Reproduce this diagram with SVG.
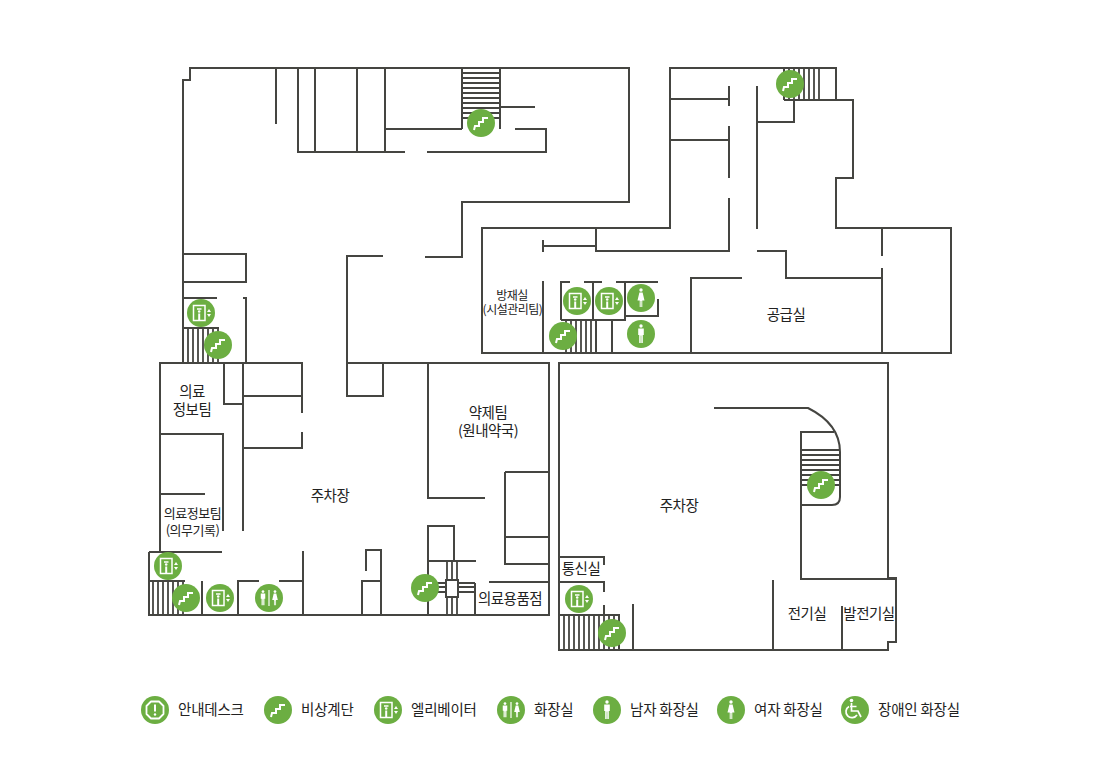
<svg xmlns="http://www.w3.org/2000/svg" xmlns:xlink="http://www.w3.org/1999/xlink" width="1100" height="769" viewBox="0 0 1100 769">
<style>
.w{fill:none;stroke:#454541;stroke-width:2}
.s{fill:none;stroke:#454541;stroke-width:1.8}
.t{font-family:"Noto Sans CJK KR","Liberation Sans",sans-serif;font-size:14.5px;fill:#222;letter-spacing:-.5px;text-anchor:middle}
.m{font-size:12px}
.n{font-size:13px}
.l{text-anchor:start;font-size:14.5px;letter-spacing:-.2px}
.g{fill:#6cae42}
.i{fill:none;stroke:#fff;stroke-width:1.5}
.f{fill:#fff}
</style>
<defs>
<g id="stair"><circle class="g" r="14"/><path d="M-7,7 L-6,3 H-2 V-1 H2 V-5 H7" fill="none" stroke="#fff" stroke-width="2"/></g>
<g id="elev"><circle class="g" r="14"/><rect class="i" x="-7.500" y="-7.500" width="11.500" height="15"/><path fill="none" stroke="#fff" stroke-width="1.500" d="M-4,-4 H.5"/><circle class="f" cx="-1.800" cy="-1.500" r="1.300"/><rect class="f" x="-2.800" y=".5" width="2" height="7"/><path class="f" d="M8,-4 L10,-1 H6 Z M8,4 L10,1 H6 Z"/></g>
<g id="man"><circle class="f" cy="-8" r="1.700"/><path class="f" d="M-2.800,-5.500 H2.800 V1 H1.800 V9 H.3 V1.500 H-.3 V9 H-1.800 V1 H-2.800 Z"/></g>
<g id="woman"><circle class="f" cy="-8" r="1.700"/><path class="f" d="M-1.600,-5.500 H1.600 L3.500,2.500 H1.300 V9 H.3 V3 H-.3 V9 H-1.300 V2.500 H-3.500 Z"/></g>
<g id="wc"><circle class="g" r="14"/><use xlink:href="#man" href="#man" transform="translate(-6,0) scale(.8)"/><use xlink:href="#woman" href="#woman" transform="translate(6,0) scale(.8)"/><path d="M0,-8 V8" stroke="#fff" stroke-width="1.200"/></g>
<g id="mc"><circle class="g" r="14"/><use xlink:href="#man" href="#man"/></g>
<g id="wm"><circle class="g" r="14"/><use xlink:href="#woman" href="#woman"/></g>
</defs>

<g id="connectors">
<path class="w" d="M183,363 V80 H190 V68 H629 V202 H462 V257 H425 M383,256 H347 V396 H383 V363"/>
<path class="w" d="M276,68 V124 M298,68 V152 H405 M315,68 V152 M357,68 V152 M385,68 V152 M385,129 H462 M462,68 V129 M500,68 V129 M500,107 H535 M515,129 H546 V152 H427"/>
<path class="s" d="M462,73 H500 M462,78 H500 M462,83 H500 M462,88 H500 M462,93 H500 M462,98 H500 M462,103 H500 M462,108 H500 M462,113 H500 M462,118 H500"/>
<path class="w" d="M183,254 H246 V282 H183 M183,298 H217 M243,298 H246 V363 M183,328 H219"/>
<path class="s" d="M188,328 V363 M193,328 V363 M198,328 V363 M203,328 V363 M208,328 V363 M213,328 V363 M218,328 V363"/>
<path class="w" d="M302,413 V363 H160 V552 M149,552 H222 M149,552 V615 H549 V363 H347"/>
<path class="w" d="M224,363 V404 H243 M243,363 V531 M243,396 H302 M243,448 H302 V432 M160,434 H223 V531 M160,494 H205 M303,551 V615 M366,571 V550 H381 V615 M362,615 V581 H381"/>
<path class="w" d="M149,581 H185 M202,581 V615 M238,615 V581 H259 M279,581 H303"/>
<path class="s" d="M153,581 V615 M158,581 V615 M163,581 V615 M168,581 V615 M173,581 V615 M178,581 V615 M183,581 V615"/>
<path class="w" d="M428,363 V498 H485 M505,472 H549 M505,472 V564 H549 M505,537 H549 M428,615 V526 H454 V561 M428,561 H476 M489,582 H549 M475,583 V615"/>
<path class="s" d="M447,561 V615 M452,561 V580 M452,597 V615 M457,561 V615 M428,583 H475 M428,587 H475 M428,592 H475"/>
<rect class="w" x="446" y="580" width="12" height="17" style="fill:#fff"/>

<path class="w" d="M482,228 H670 V68 H836 V100 H853 V178 H836 V228 H951 V353 H482 Z"/>
<path class="w" d="M670,99 H729 M729,86 V106 M670,140 H729 M729,126 V178 M729,198 V251 H596 V228 M543,246 H596 M543,240 V252 M757,86 V229 M757,122 H794 V100 M784,100 H853 M784,68 V100 M757,251 H786 V278 H882 M691,353 V278 H742 M882,228 V256 M882,268 V353 M543,281 V353"/>
<path class="s" d="M789,68 V100 M794,68 V100 M799,68 V100 M804,68 V100 M809,68 V100 M814,68 V100 M819,68 V100"/>
<path class="w" d="M570,282 H561 V320 M584,282 H602 M593,282 V320 M616,282 H658 M625,282 V320 H561 M625,316 H658 V299 M596,320 V353 M612,320 V353"/>
<path class="s" d="M566,320 V353 M571,320 V353 M576,320 V353 M581,320 V353 M586,320 V353 M591,320 V353"/>

<path class="w" d="M559,363 H888 V578 H896 V642 H888 V650 H559 Z"/>
<path class="w" d="M714,408 H808 C828,418 840,432 840,452 V497 Q840,505 832,505 H801 V432 H834 M801,505 V579 H896 M773,580 V650 M842,606 V650 M633,604 V650"/>
<path class="s" d="M801,450 H840 M801,455 H840 M801,460 H840 M801,465 H840 M801,470 H840 M801,475 H840 M801,480 H840 M801,485 H840"/>
<path class="w" d="M559,557 H604 V565 M559,582 H604 V592 M604,605 V615 M559,615 H619 V650"/>
<path class="s" d="M564,615 V650 M569,615 V650 M574,615 V650 M579,615 V650 M584,615 V650 M589,615 V650 M594,615 V650 M599,615 V650 M604,615 V650 M609,615 V650 M614,615 V650"/>
</g>

<g id="icons">
<use xlink:href="#stair" href="#stair" x="481" y="123"/>
<use xlink:href="#stair" href="#stair" x="790" y="84"/>
<use xlink:href="#stair" href="#stair" x="218" y="345"/>
<use xlink:href="#stair" href="#stair" x="186" y="598"/>
<use xlink:href="#stair" href="#stair" x="425" y="588"/>
<use xlink:href="#stair" href="#stair" x="563" y="336"/>
<use xlink:href="#stair" href="#stair" x="612" y="633"/>
<use xlink:href="#stair" href="#stair" x="821" y="485"/>
<use xlink:href="#elev" href="#elev" x="201" y="313"/>
<use xlink:href="#elev" href="#elev" x="168" y="566"/>
<use xlink:href="#elev" href="#elev" x="220" y="598"/>
<use xlink:href="#elev" href="#elev" x="577" y="301"/>
<use xlink:href="#elev" href="#elev" x="609" y="301"/>
<use xlink:href="#elev" href="#elev" x="579" y="599"/>
<use xlink:href="#wm" href="#wm" x="641" y="298"/>
<use xlink:href="#mc" href="#mc" x="641" y="334"/>
<use xlink:href="#wc" href="#wc" x="269" y="598"/>
</g>

<g id="labels">
<text class="t" x="192" y="396.500">의료</text>
<text class="t" x="192" y="414.500">정보팀</text>
<text class="t n" x="192.500" y="518">의료정보팀</text>
<text class="t n" x="192.500" y="535">(의무기록)</text>
<text class="t" x="330" y="501">주차장</text>
<text class="t" x="488" y="417.500">약제팀</text>
<text class="t" x="488" y="435.500">(원내약국)</text>
<text class="t" x="510" y="604">의료용품점</text>
<text class="t m" x="512" y="299.500">방재실</text>
<text class="t m" x="512.500" y="314">(시설관리팀)</text>
<text class="t" x="786" y="320">공급실</text>
<text class="t" x="679" y="511">주차장</text>
<text class="t" x="581" y="574">통신실</text>
<text class="t" x="807" y="619">전기실</text>
<text class="t" x="869" y="619">발전기실</text>
</g>

<g id="legend">
<g id="lg-info"><circle class="g" cx="155" cy="710" r="14"/><path d="M151,701.500 H159 L163.500,706 V714 L159,718.500 H151 L146.500,714 V706 Z" fill="none" stroke="#fff" stroke-width="1.800" stroke-linejoin="round"/><rect class="f" x="154" y="704.500" width="2" height="7"/><circle class="f" cx="155" cy="714.500" r="1.200"/><text class="t l" x="178" y="715">안내데스크</text></g>
<g id="lg-stair"><use xlink:href="#stair" href="#stair" x="278" y="710"/><text class="t l" x="301" y="715">비상계단</text></g>
<g id="lg-elev"><use xlink:href="#elev" href="#elev" x="388" y="710"/><text class="t l" x="411" y="715">엘리베이터</text></g>
<g id="lg-wc"><use xlink:href="#wc" href="#wc" x="511" y="710"/><text class="t l" x="534" y="715">화장실</text></g>
<g id="lg-man"><use xlink:href="#mc" href="#mc" x="607" y="710"/><text class="t l" x="630" y="715">남자 화장실</text></g>
<g id="lg-woman"><use xlink:href="#wm" href="#wm" x="731" y="710"/><text class="t l" x="754" y="715">여자 화장실</text></g>
<g id="lg-dis"><circle class="g" cx="855" cy="710" r="14"/><circle class="f" cx="851.500" cy="700.500" r="1.800"/><path d="M851.500,703 V711 H858 L861,717 M850,706.500 H856.500 M849,706.500 A6,6 0 1 0 857,715" fill="none" stroke="#fff" stroke-width="1.700"/><text class="t l" x="878" y="715">장애인 화장실</text></g>
</g>
</svg>
